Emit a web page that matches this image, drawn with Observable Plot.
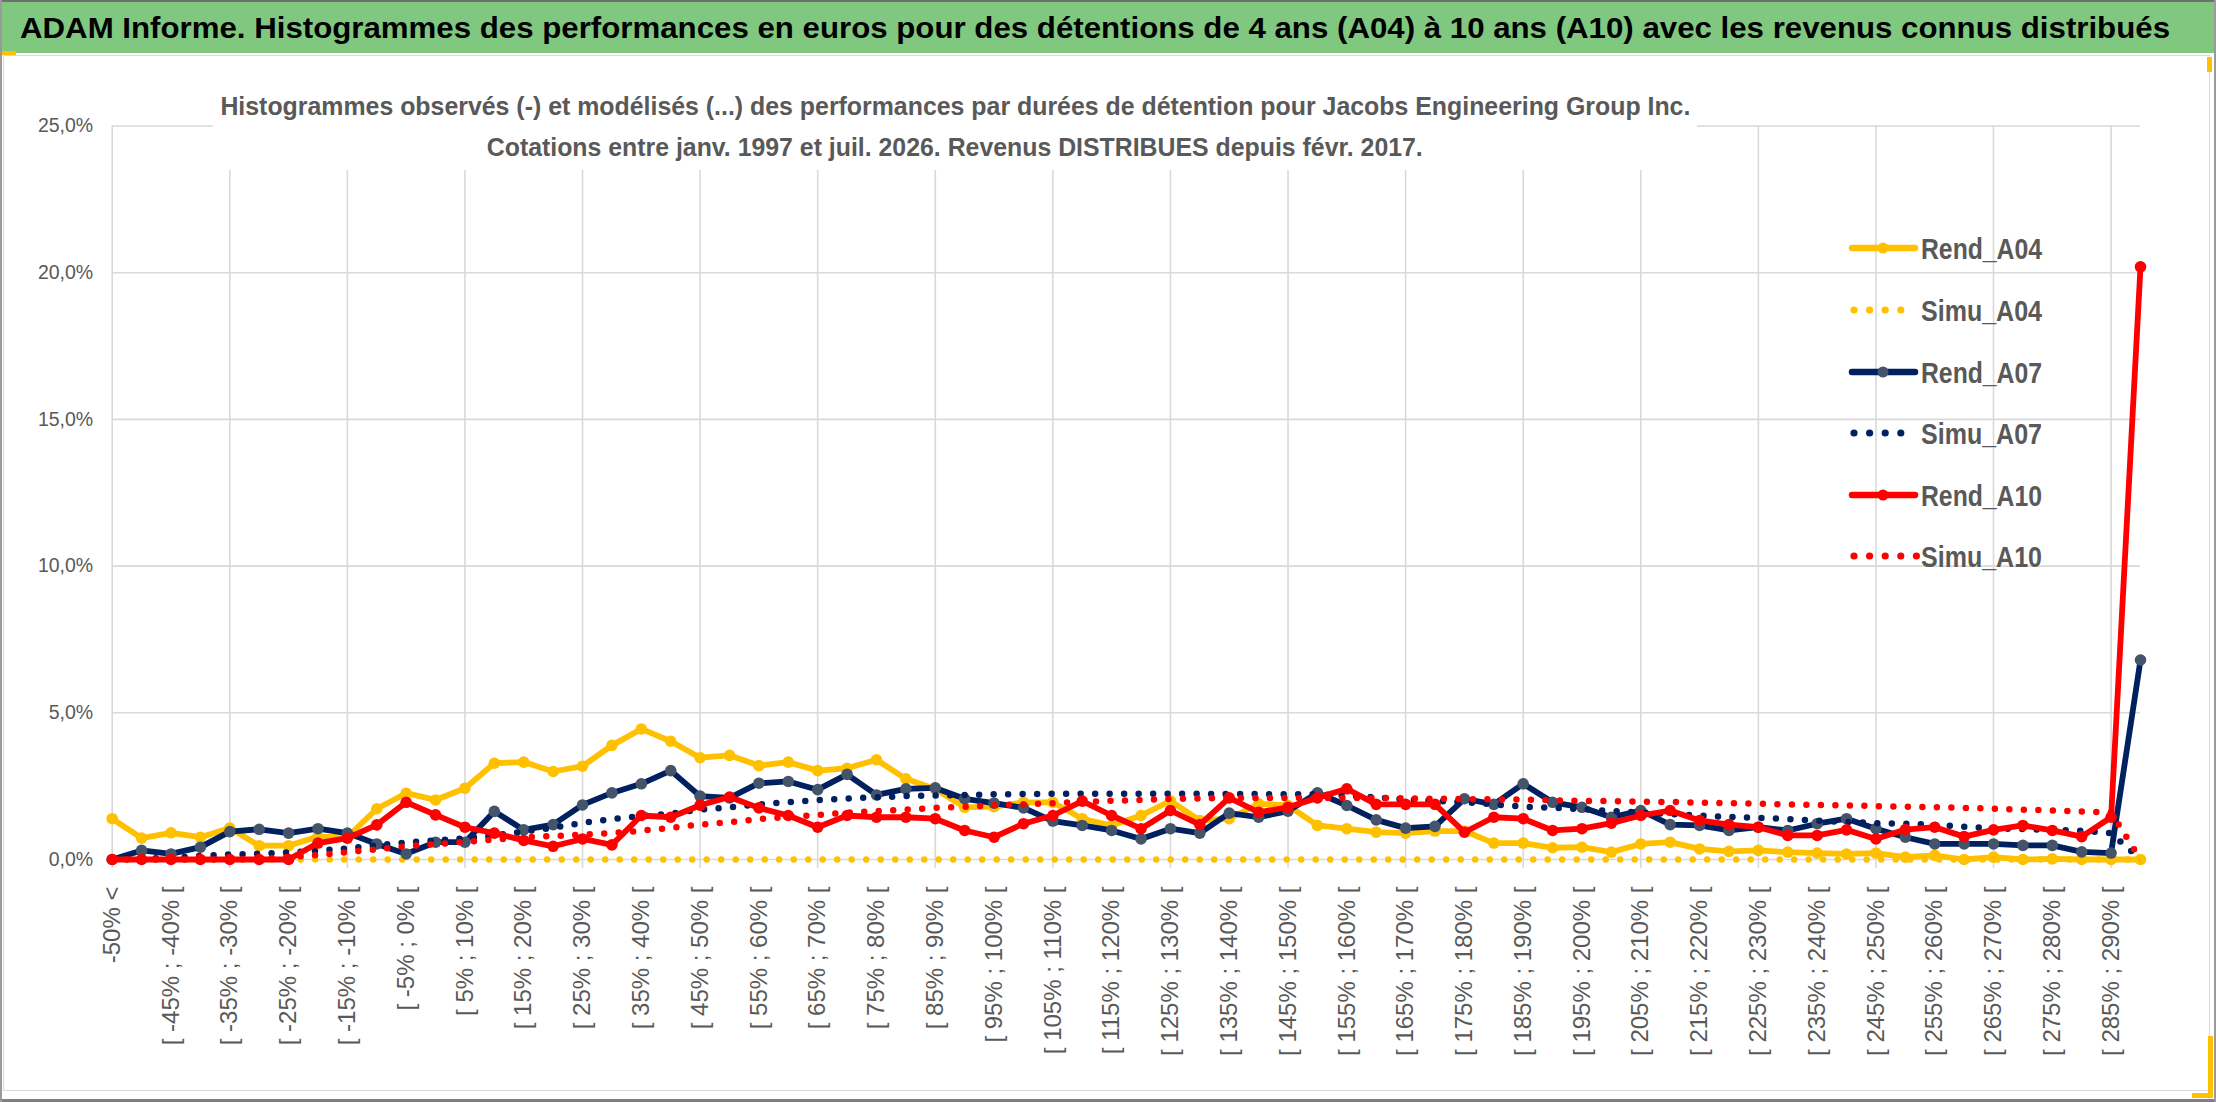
<!DOCTYPE html>
<html><head><meta charset="utf-8">
<script src="https://cdn.jsdelivr.net/npm/d3@7"></script>
<script src="https://cdn.jsdelivr.net/npm/@observablehq/plot@0.6"></script>
<style>
html,body{margin:0;padding:0;background:#fff;}
#root{position:relative;width:2216px;height:1102px;overflow:hidden;background:#fff;font-family:"Liberation Sans",Arial,sans-serif;}
#root svg.plot{position:absolute;left:0;top:0;}
.abs{position:absolute;white-space:nowrap;line-height:1;}
#titlebar{position:absolute;left:0;top:0;width:2216px;height:53px;background:#80c880;border-top:2px solid #6f6f6f;box-sizing:border-box;}
#title{left:20px;top:13.8px;font-size:29px;font-weight:bold;color:#000;transform-origin:left center;}
#subbox{position:absolute;left:213px;top:85px;width:1484px;height:85px;background:#fff;}
.sub{font-size:25px;font-weight:bold;color:#595959;transform-origin:center center;}
.leg{font-size:29px;font-weight:bold;color:#595959;transform-origin:left center;}
</style></head>
<body><div id="root">
<div id="frame" style="position:absolute;left:3px;top:55px;width:2207px;height:1036px;border:1.5px solid #d9d9d9;box-sizing:border-box;"></div>
<div id="titlebar"></div>
<div class="abs" id="title">ADAM Informe. Histogrammes des performances en euros pour des détentions de 4 ans (A04) à 10 ans (A10) avec les revenus connus distribués</div>
</div>
<script>
const categories = ["-50% <","[ -50% ; -45% [","[ -45% ; -40% [","[ -40% ; -35% [","[ -35% ; -30% [","[ -30% ; -25% [","[ -25% ; -20% [","[ -20% ; -15% [","[ -15% ; -10% [","[ -10% ; -5% [",
"[ -5% ; 0% [","[ 0% ; 5% [","[ 5% ; 10% [","[ 10% ; 15% [","[ 15% ; 20% [","[ 20% ; 25% [","[ 25% ; 30% [","[ 30% ; 35% [","[ 35% ; 40% [","[ 40% ; 45% [",
"[ 45% ; 50% [","[ 50% ; 55% [","[ 55% ; 60% [","[ 60% ; 65% [","[ 65% ; 70% [","[ 70% ; 75% [","[ 75% ; 80% [","[ 80% ; 85% [","[ 85% ; 90% [","[ 90% ; 95% [",
"[ 95% ; 100% [","[ 100% ; 105% [","[ 105% ; 110% [","[ 110% ; 115% [","[ 115% ; 120% [","[ 120% ; 125% [","[ 125% ; 130% [","[ 130% ; 135% [","[ 135% ; 140% [","[ 140% ; 145% [",
"[ 145% ; 150% [","[ 150% ; 155% [","[ 155% ; 160% [","[ 160% ; 165% [","[ 165% ; 170% [","[ 170% ; 175% [","[ 175% ; 180% [","[ 180% ; 185% [","[ 185% ; 190% [","[ 190% ; 195% [",
"[ 195% ; 200% [","[ 200% ; 205% [","[ 205% ; 210% [","[ 210% ; 215% [","[ 215% ; 220% [","[ 220% ; 225% [","[ 225% ; 230% [","[ 230% ; 235% [","[ 235% ; 240% [","[ 240% ; 245% [",
"[ 245% ; 250% [","[ 250% ; 255% [","[ 255% ; 260% [","[ 260% ; 265% [","[ 265% ; 270% [","[ 270% ; 275% [","[ 275% ; 280% [","[ 280% ; 285% [","[ 285% ; 290% [","> 290%"];

const rendA04 = [1.39,0.73,0.91,0.76,1.07,0.47,0.47,0.78,0.76,1.73, 2.26,2.03,2.43,3.28,3.32,3.0,3.18,3.89,4.45,4.03, 3.47,3.55,3.2,3.32,3.03,3.11,3.4,2.75,2.4,1.78, 1.8,1.95,1.95,1.39,1.16,1.5,2.0,1.33,1.39,1.9, 1.84,1.16,1.05,0.93,0.9,0.97,0.97,0.56,0.56,0.4, 0.42,0.25,0.53,0.59,0.36,0.28,0.31,0.25,0.22,0.19, 0.22,0.08,0.14,0.0,0.08,0.0,0.02,0.0,0.0,0.0];
const simuA04 = [0,0,0,0,0,0,0,0,0,0, 0,0,0,0,0,0,0,0,0,0, 0,0,0,0,0,0,0,0,0,0, 0,0,0,0,0,0,0,0,0,0, 0,0,0,0,0,0,0,0,0,0, 0,0,0,0,0,0,0,0,0,0, 0,0,0,0,0,0,0,0,0,0];
const rendA07 = [0,0.31,0.19,0.42,0.95,1.03,0.9,1.05,0.9,0.53, 0.19,0.59,0.59,1.64,1.01,1.19,1.86,2.27,2.58,3.03, 2.16,2.1,2.6,2.66,2.38,2.9,2.2,2.41,2.44,2.07, 1.92,1.76,1.31,1.16,0.99,0.7,1.05,0.9,1.58,1.44, 1.65,2.27,1.84,1.35,1.07,1.13,2.07,1.88,2.58,1.95, 1.78,1.44,1.67,1.19,1.16,0.99,1.1,0.99,1.22,1.39, 1.05,0.76,0.53,0.53,0.53,0.48,0.48,0.26,0.22,6.8];
const simuA07 = [0,0.03,0.06,0.12,0.17,0.2,0.24,0.3,0.38,0.48, 0.58,0.65,0.72,0.82,0.95,1.08,1.25,1.38,1.48,1.56, 1.7,1.78,1.88,1.95,2.02,2.08,2.12,2.16,2.18,2.2, 2.22,2.23,2.24,2.24,2.24,2.24,2.24,2.24,2.23,2.23, 2.22,2.22,2.18,2.12,2.05,2.0,1.95,1.88,1.8,1.76, 1.72,1.65,1.6,1.55,1.5,1.45,1.42,1.38,1.32,1.28, 1.24,1.22,1.18,1.12,1.06,1.04,1.01,0.98,0.9,0.0];
const rendA10 = [0,0,0,0,0,0,0,0.56,0.73,1.18, 1.95,1.52,1.1,0.9,0.65,0.45,0.7,0.5,1.5,1.44, 1.85,2.13,1.76,1.5,1.1,1.5,1.44,1.44,1.39,0.99, 0.76,1.22,1.5,1.99,1.5,1.05,1.67,1.19,2.1,1.61, 1.78,2.1,2.41,1.88,1.88,1.88,0.93,1.44,1.39,0.99, 1.05,1.24,1.5,1.67,1.33,1.19,1.1,0.82,0.82,1.01, 0.7,1.02,1.1,0.78,1.01,1.16,0.99,0.78,1.44,20.2];
const simuA10 = [0,0,0,0,0,0.02,0.08,0.15,0.25,0.35, 0.45,0.52,0.6,0.68,0.75,0.8,0.85,0.9,0.98,1.08, 1.19,1.27,1.38,1.45,1.52,1.6,1.65,1.7,1.76,1.8, 1.85,1.88,1.92,1.96,2.0,2.03,2.06,2.08,2.1,2.1, 2.1,2.1,2.1,2.1,2.08,2.07,2.06,2.05,2.04,2.02, 2.0,1.99,1.97,1.96,1.94,1.92,1.9,1.88,1.86,1.84, 1.82,1.8,1.78,1.76,1.73,1.7,1.67,1.64,1.6,0.0];

const yTicks = [0,5,10,15,20,25];
const tickLabels = categories.filter((c,i)=>i%2===0);
const gridCats = categories.filter((c,i)=>i%4===0);
const legendNames = ["Rend_A04","Simu_A04","Rend_A07","Simu_A07","Rend_A10","Simu_A10"];

const YELLOW="#FFC000", NAVY="#002060", NAVYMK="#44546A", RED="#FF0000", GREY="#595959", GRID="#d9d9d9";
const rows = vals => categories.map((c,i)=>({cat:c, v:vals[i]}));
const fmt = d => d.toFixed(1).replace(".", ",") + "%";
const W=2216, H=1102;

const solid = {x:"cat", y:"v", strokeWidth:5.8, strokeLinejoin:"round", strokeLinecap:"round"};
const dotted = {x:"cat", y:"v", strokeWidth:6.5, strokeDasharray:"0,14.5", strokeLinecap:"round"};

const chart = Plot.plot({
  width: W, height: H,
  marginLeft: 111.7, marginRight: W-2140, marginTop: 125.5, marginBottom: H-859,
  x: {type:"point", domain: categories, padding: 0, round: false, axis: null},
  y: {domain:[0,25], axis: null},
  style: {background:"transparent", fontFamily:'"Liberation Sans", Arial, sans-serif', overflow:"visible"},
  marks: [
    Plot.ruleY(yTicks, {stroke:GRID, strokeWidth:1.6}),
    Plot.ruleX(gridCats, {y1:-0.3, y2:25, stroke:GRID, strokeWidth:1.6}),
    Plot.text(yTicks, {y:d=>d, frameAnchor:"left", dx:-19, textAnchor:"end", text:fmt, fontSize:19.5, fill:GREY}),
    Plot.text(tickLabels, {x:d=>d, y:0, dy:27, rotate:-90, textAnchor:"end", lineAnchor:"middle", fontSize:24, fill:GREY}),
    Plot.line(rows(rendA04), {...solid, stroke:YELLOW}),
    Plot.dot(rows(rendA04), {x:"cat", y:"v", r:5.8, fill:YELLOW}),
    Plot.line(rows(simuA04), {...dotted, stroke:YELLOW}),
    Plot.line(rows(rendA07), {...solid, stroke:NAVY}),
    Plot.dot(rows(rendA07), {x:"cat", y:"v", r:5.8, fill:NAVYMK}),
    Plot.line(rows(simuA07), {...dotted, stroke:NAVY}),
    Plot.line(rows(rendA10), {...solid, stroke:RED}),
    Plot.dot(rows(rendA10), {x:"cat", y:"v", r:5.8, fill:RED}),
    Plot.line(rows(simuA10), {...dotted, stroke:RED})
  ]
});
chart.classList.add("plot");
const root = document.getElementById("root");
root.insertBefore(chart, document.getElementById("titlebar"));

// subtitle box (overlaid title of the chart area)
const subbox = document.createElement("div");
subbox.id = "subbox";
root.appendChild(subbox);
const subLines = [
  {text:"Histogrammes observés (-) et modélisés (...) des performances par durées de détention pour Jacobs Engineering Group Inc.", top:93.8, w:1470},
  {text:"Cotations entre janv. 1997 et juil. 2026. Revenus DISTRIBUES depuis févr. 2017.", top:134.8, w:936}
];
const fitList = [];
subLines.forEach(s=>{
  const d = document.createElement("div");
  d.className = "abs sub";
  d.textContent = s.text;
  d.style.top = s.top + "px";
  root.appendChild(d);
  fitList.push({el:d, w:s.w, center:955});
});

// legend
const legendStyles = [
  {color:YELLOW, mk:YELLOW, dotted:false, n:4},
  {color:YELLOW, dotted:true, n:4},
  {color:NAVY, mk:NAVYMK, dotted:false, n:4},
  {color:NAVY, dotted:true, n:4},
  {color:RED, mk:RED, dotted:false, n:4},
  {color:RED, dotted:true, n:5}
];
const legCenters = [248,310,372,433,495,556];
legendNames.forEach((name,i)=>{
  const st = legendStyles[i], cy = legCenters[i];
  const ns = "http://www.w3.org/2000/svg";
  const sv = document.createElementNS(ns,"svg");
  sv.setAttribute("width",80); sv.setAttribute("height",20);
  sv.style.position="absolute"; sv.style.left="1845px"; sv.style.top=(cy-10)+"px";
  if (!st.dotted) {
    const ln = document.createElementNS(ns,"line");
    ln.setAttribute("x1",7); ln.setAttribute("x2",70); ln.setAttribute("y1",10); ln.setAttribute("y2",10);
    ln.setAttribute("stroke",st.color); ln.setAttribute("stroke-width",6.5); ln.setAttribute("stroke-linecap","round");
    sv.appendChild(ln);
    const c = document.createElementNS(ns,"circle");
    c.setAttribute("cx",38); c.setAttribute("cy",10); c.setAttribute("r",5.5); c.setAttribute("fill",st.mk);
    sv.appendChild(c);
  } else {
    for (let k=0;k<st.n;k++){
      const c = document.createElementNS(ns,"circle");
      c.setAttribute("cx",9+k*15.6); c.setAttribute("cy",10); c.setAttribute("r",3.6); c.setAttribute("fill",st.color);
      sv.appendChild(c);
    }
  }
  root.appendChild(sv);
  const t = document.createElement("div");
  t.className = "abs leg";
  t.textContent = name;
  t.style.left = "1921px";
  t.style.top = (cy + 11 - 24.5) + "px";
  root.appendChild(t);
  fitList.push({el:t, w:121, left:1921});
});

// decorative accents / borders
function box(css){const d=document.createElement("div");d.style.position="absolute";Object.assign(d.style,css);root.appendChild(d);}
box({left:"0px",top:"51px",width:"16px",height:"4px",background:YELLOW});
box({left:"2207px",top:"57px",width:"5px",height:"15px",background:YELLOW});
box({left:"2208px",top:"1036px",width:"5px",height:"62px",background:YELLOW});
box({left:"2192px",top:"1093px",width:"21px",height:"5px",background:YELLOW});
box({left:"0px",top:"1099px",width:"2216px",height:"3px",background:"#7f7f7f"});
box({left:"0px",top:"0px",width:"2px",height:"1102px",background:"#9a9a9a"});
box({left:"2214px",top:"0px",width:"2px",height:"1102px",background:"#9a9a9a"});

// fit texts to the measured widths of the reference
const title = document.getElementById("title");
fitList.push({el:title, w:2150, left:20});
fitList.forEach(f=>{
  const r = f.el.getBoundingClientRect().width;
  const s = f.w / r;
  if (f.center !== undefined) {
    f.el.style.left = (f.center - r/2) + "px";
    f.el.style.transformOrigin = "center center";
  } else {
    f.el.style.transformOrigin = "left center";
  }
  f.el.style.transform = `scaleX(${s})`;
});
</script>
</body></html>
